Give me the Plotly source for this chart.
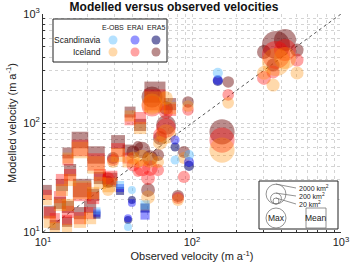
import numpy as np
import plotly.graph_objects as go

# ---------------- data ----------------
datasets = ["E-OBS", "ERAI", "ERA5"]
regions = ["Scandinavia", "Iceland"]
size_ref_areas = [2000, 200, 20]  # km2

# Iceland, maximum velocities (circles)
ice_max_obs = [507, 366, 421, 304, 350, 175, 159, 94.0, 53.9, 66.9, 66.9, 61.0, 40.2, 46.2, 52.2, 59.1, 43.4, 50.7, 88.3, 80.5, 29.5, 27.3]
ice_max_area = [400, 7500, 3000, 500, 400, 250, 5000, 250, 2500, 500, 2000, 500, 400, 1000, 800, 300, 150, 500, 300, 300, 300, 300]
ice_max_era5 = [467, 520, 577, 448, 340, 238, 83, 156, 173, 137, 96, 72.8, 54.2, 56.5, 47.7, 50.9, 61.5, 24.3, 54.2, 21.4, 47.7, 28.8]
ice_max_erai = [378, 421, 467, 259, 294, 181, 69.8, 132, 143, 126, 90, 77.6, 41.2, 38.6, 38.6, 37.0, 35.5, 31.3, 32.0, 20.5, 45.8, 31.3]
ice_max_eobs = [288, 363, 395, 288, 223, 153, 56.5, 143, 149, 169, 79, 65.6, 47.7, 47.7, 45.8, 43.9, 43.0, 20.9, 47.7, 19.7, 43.9, 24.3]

# Iceland, mean velocities (squares)
ice_mean_obs = [56.4, 71.2, 38.4, 44.8, 17.7, 14.7, 22.7, 31.9, 37.2, 15.2, 18.3, 24.1, 13.4, 21.7, 13.0, 11.1, 14.7, 17.7, 12.0, 14.5, 28.2, 20.7, 10.6]
ice_mean_area = [2500, 300, 200, 300, 1000, 200, 1200, 500, 200, 300, 1500, 300, 300, 300, 300, 300, 300, 300, 150, 150, 600, 300, 150]
ice_mean_era5 = [192, 149, 126, 96, 69.8, 53.1, 50.9, 66.9, 56.5, 37.0, 25.3, 31.3, 27.0, 21.9, 18.5, 15.3, 17.0, 14.9, 11.6, 12.4, 30.0, 17.0, 24.3]
ice_mean_erai = [163, 132, 107, 111, 59, 45.8, 43.9, 56.5, 47.7, 33.3, 23.3, 33.3, 30.0, 20.5, 20.9, 14.9, 15.3, 13.4, 13.4, 12.9, 31.3, 14.9, 21.9]
ice_mean_eobs = [156, 137, 116, 90, 56.5, 47.7, 41.2, 50.9, 43.9, 30.0, 24.3, 28.2, 24.3, 22.8, 17.7, 12.4, 17.7, 12.4, 11.1, 10.7, 27.0, 13.4, 19.7]

# Scandinavia, maximum velocities (circles)
sca_max_obs = [149, 77, 95.5, 37.2, 39.5]
sca_max_area = [150, 100, 150, 60, 60]
sca_max_era5 = [243, 60.2, 40.4, 12.9, 19.7]
sca_max_erai = [248, 69.8, 43.9, 13.4, 18.5]
sca_max_eobs = [288, 45.8, 50.9, 11.1, 24.3]

# Scandinavia, mean velocities (squares)
sca_mean_obs = [32.9, 48.4, 23.0]
sca_mean_area = [60, 100, 40]
sca_mean_era5 = [23.8, 16.6, 14.3]
sca_mean_erai = [25.3, 14.3, 14.9]
sca_mean_eobs = [27.0, 17.7, 15.6]

# ---------------- styles ----------------
FONT = "Liberation Sans, Arial, Helvetica, sans-serif"
colors = {
    ("Scandinavia", "E-OBS"): ("rgb(77,184,255)", 0.42),
    ("Scandinavia", "ERAI"): ("rgb(0,0,255)", 0.42),
    ("Scandinavia", "ERA5"): ("rgb(0,0,102)", 0.55),
    ("Iceland", "E-OBS"): ("rgb(255,140,0)", 0.33),
    ("Iceland", "ERAI"): ("rgb(255,0,0)", 0.36),
    ("Iceland", "ERA5"): ("rgb(102,0,0)", 0.45),
}


def diam(area):
    return 6.0 * (np.asarray(area, dtype=float) / 20.0) ** 0.26


data = {
    "Iceland": {
        "max": (ice_max_obs, ice_max_area, {"ERA5": ice_max_era5, "ERAI": ice_max_erai, "E-OBS": ice_max_eobs}),
        "mean": (ice_mean_obs, ice_mean_area, {"ERA5": ice_mean_era5, "ERAI": ice_mean_erai, "E-OBS": ice_mean_eobs}),
    },
    "Scandinavia": {
        "max": (sca_max_obs, sca_max_area, {"ERA5": sca_max_era5, "ERAI": sca_max_erai, "E-OBS": sca_max_eobs}),
        "mean": (sca_mean_obs, sca_mean_area, {"ERA5": sca_mean_era5, "ERAI": sca_mean_erai, "E-OBS": sca_mean_eobs}),
    },
}

fig = go.Figure()

# 1:1 line
fig.add_trace(go.Scatter(x=[10, 1000], y=[10, 1000], mode="lines",
                         line=dict(color="#555555", width=1, dash="dot"),
                         hoverinfo="skip", showlegend=False))

for region in ["Iceland", "Scandinavia"]:
    for ds in ["ERA5", "ERAI", "E-OBS"]:
        col, op = colors[(region, ds)]
        for stat, sym in [("mean", "square"), ("max", "circle")]:
            obs, area, mods = data[region][stat]
            fig.add_trace(go.Scatter(
                x=obs, y=mods[ds], mode="markers",
                marker=dict(symbol=sym, size=diam(area), color=col, opacity=op,
                            line=dict(width=0)),
                name=f"{region} {ds} {stat}", showlegend=False))

# ---------------- layout ----------------
L, R, T, B = 43, 9, 14, 39
W, H = 350, 271
PW, PH = W - L - R, H - T - B


def pxx(x):
    return (x - L) / PW


def pxy(y):
    return (H - B - y) / PH


grid = "#d4d4d4"
minor_vals = [v * m for m in (10, 100) for v in range(2, 10)]

axis_common = dict(
    type="log", showline=True, linecolor="#333333", linewidth=1, mirror=False,
    ticks="inside", ticklen=3, tickcolor="#333333", automargin=False,
    showgrid=True, gridcolor=grid, griddash="dot", gridwidth=1,
    zeroline=False, tickfont=dict(family=FONT, size=11, color="#222222"),
    minor=dict(tickvals=minor_vals, ticks="inside", ticklen=2, tickcolor="#333333",
               showgrid=True, gridcolor=grid, griddash="dot", gridwidth=1),
    tickvals=[10, 100, 1000],
    ticktext=["10<sup>1</sup>", "10<sup>2</sup>", "10<sup>3</sup>"],
)

fig.update_layout(
    width=W, height=H,
    margin=dict(l=L, r=R, t=T, b=B, autoexpand=False),
    paper_bgcolor="white", plot_bgcolor="white",
    font=dict(family=FONT, size=11, color="#222222"),
    showlegend=False,
    title=dict(text="<b>Modelled versus observed velocities</b>",
               x=174 / W, xref="container", xanchor="center",
               y=1 - 7 / H, yref="container", yanchor="middle",
               font=dict(family=FONT, size=12, color="#111111")),
    xaxis=dict(axis_common, range=[1, 3],
               title=dict(text="Observed velocity (m a<sup>-1</sup>)", standoff=5,
                          font=dict(family=FONT, size=11))),
    yaxis=dict(axis_common, range=[1, 3],
               title=dict(text="Modelled velocity (m a<sup>-1</sup>)", standoff=4,
                          font=dict(family=FONT, size=11))),
)

shapes = []
ann = []

# ---- dataset/region legend (top-left) ----
shapes.append(dict(type="rect", xref="paper", yref="paper", layer="above",
                   x0=pxx(53), x1=pxx(167), y0=pxy(62), y1=pxy(19),
                   line=dict(color="#222222", width=1), fillcolor="white"))
col_x = {"E-OBS": 113, "ERAI": 135, "ERA5": 156}
row_y = {"Scandinavia": 40, "Iceland": 52}
for ds, cx in col_x.items():
    ann.append(dict(text=ds, x=pxx(cx), y=pxy(28), xref="paper", yref="paper",
                    showarrow=False, xanchor="center", yanchor="middle",
                    font=dict(family=FONT, size=7, color="#222222")))
for reg, ry in row_y.items():
    ann.append(dict(text=reg, x=pxx(103), y=pxy(ry), xref="paper", yref="paper",
                    showarrow=False, xanchor="right", yanchor="middle",
                    font=dict(family=FONT, size=8.5, color="#222222")))
    for ds, cx in col_x.items():
        col, op = colors[(reg, ds)]
        shapes.append(dict(type="circle", xref="paper", yref="paper", layer="above",
                           xsizemode="pixel", ysizemode="pixel",
                           xanchor=pxx(cx), yanchor=pxy(ry),
                           x0=-4.5, x1=4.5, y0=-4.5, y1=4.5,
                           fillcolor=col, opacity=op, line=dict(width=0)))

# ---- size / symbol legend (bottom-right) ----
shapes.append(dict(type="rect", xref="paper", yref="paper", layer="above",
                   x0=pxx(259), x1=pxx(338), y0=pxy(229), y1=pxy(181),
                   line=dict(color="#222222", width=1), fillcolor="white"))
base_y = 204
cx0 = 276
label_y = [188, 196, 204]
for a, ly in zip(size_ref_areas, label_y):
    d = float(diam(a))
    shapes.append(dict(type="circle", xref="paper", yref="paper", layer="above",
                       xsizemode="pixel", ysizemode="pixel",
                       xanchor=pxx(cx0), yanchor=pxy(base_y),
                       x0=-d / 2, x1=d / 2, y0=0, y1=d,
                       line=dict(color="#777777", width=0.8), fillcolor="rgba(0,0,0,0)"))
    top = base_y - d
    shapes.append(dict(type="line", xref="paper", yref="paper", layer="above",
                       x0=pxx(cx0), x1=pxx(296), y0=pxy(top), y1=pxy(ly),
                       line=dict(color="#777777", width=0.8)))
    ann.append(dict(text=f"{a} km<sup>2</sup>", x=pxx(297), y=pxy(ly), xref="paper", yref="paper",
                    showarrow=False, xanchor="left", yanchor="middle",
                    font=dict(family=FONT, size=7, color="#222222")))

shapes.append(dict(type="circle", xref="paper", yref="paper", layer="above",
                   xsizemode="pixel", ysizemode="pixel",
                   xanchor=pxx(276), yanchor=pxy(218),
                   x0=-10, x1=10, y0=-10, y1=10,
                   line=dict(color="#777777", width=0.8), fillcolor="rgba(0,0,0,0)"))
shapes.append(dict(type="rect", xref="paper", yref="paper", layer="above",
                   xsizemode="pixel", ysizemode="pixel",
                   xanchor=pxx(316), yanchor=pxy(218),
                   x0=-10, x1=10, y0=-10, y1=10,
                   line=dict(color="#777777", width=0.8), fillcolor="rgba(0,0,0,0)"))
ann.append(dict(text="Max", x=pxx(276), y=pxy(218), xref="paper", yref="paper",
                showarrow=False, xanchor="center", yanchor="middle",
                font=dict(family=FONT, size=8.5, color="#222222")))
ann.append(dict(text="Mean", x=pxx(316), y=pxy(218), xref="paper", yref="paper",
                showarrow=False, xanchor="center", yanchor="middle",
                font=dict(family=FONT, size=8.5, color="#222222")))

fig.update_layout(shapes=shapes, annotations=ann)

fig.write_html("out.html", config={"displayModeBar": False},
               post_script="document.body.style.margin='0';")
